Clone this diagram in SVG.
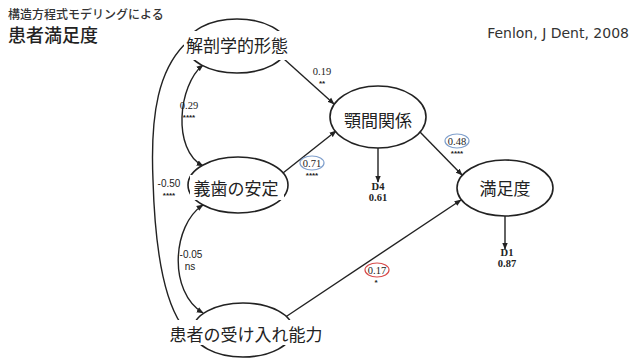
<svg xmlns="http://www.w3.org/2000/svg" width="631" height="362" viewBox="0 0 631 362">
<style>
.node ellipse{fill:#fff;stroke:#222;stroke-width:1.6}
.lbl{font-family:"Noto Sans CJK JP",sans-serif;font-size:17px;fill:#222;text-anchor:middle}
.bg{fill:#fff}
.conn path,.conn line{fill:none;stroke:#222;stroke-width:1.4}
.num{font-family:"Liberation Serif",serif;font-size:10.5px;fill:#222;text-anchor:middle}
.sans{font-family:"Liberation Sans",sans-serif;font-size:10px;fill:#222;text-anchor:middle}
.star{font-family:"Liberation Sans",sans-serif;font-size:8px;font-weight:bold;fill:#222;text-anchor:middle}
.b{font-weight:bold}
</style>
<defs>
<marker id="ah" viewBox="0 0 10 10" refX="9" refY="5" markerWidth="7" markerHeight="7" orient="auto-start-reverse" markerUnits="userSpaceOnUse">
<path d="M0,1 L10,5 L0,9 z" fill="#222"/>
</marker>
</defs>
<rect width="631" height="362" fill="#fff"/>
<text x="8" y="19" style="font-family:'Noto Sans CJK JP',sans-serif;font-size:12px;font-weight:500;fill:#333">構造方程式モデリングによる</text>
<text x="8" y="42" style="font-family:'Noto Sans CJK JP',sans-serif;font-size:18px;font-weight:500;fill:#222">患者満足度</text>
<text x="629" y="38" text-anchor="end" style="font-family:'DejaVu Sans',sans-serif;font-size:14px;fill:#333">Fenlon, J Dent, 2008</text>

<g class="conn">
<line x1="284" y1="59" x2="334" y2="104" marker-end="url(#ah)"/>
<line x1="283" y1="173" x2="336" y2="131" marker-end="url(#ah)"/>
<line x1="420" y1="132" x2="462" y2="175" marker-end="url(#ah)"/>
<line x1="284" y1="318" x2="461" y2="200" marker-end="url(#ah)"/>
<line x1="378" y1="148" x2="378" y2="182" marker-end="url(#ah)"/>
<line x1="505" y1="216" x2="505" y2="249" marker-end="url(#ah)"/>
<path d="M203,65 C178,85 172,150 203,166" marker-start="url(#ah)" marker-end="url(#ah)"/>
<path d="M203,205 C172,225 168,292 203,313" marker-start="url(#ah)" marker-end="url(#ah)"/>
<path d="M184,45 C160,70 150,110 153,180 C155,250 165,300 181,324"/>
<ellipse cx="312" cy="163" rx="12" ry="7" fill="none" stroke="#7f9fcc" stroke-width="1.2"/>
<ellipse cx="457" cy="141" rx="12" ry="7" fill="none" stroke="#7f9fcc" stroke-width="1.2"/>
<ellipse cx="377" cy="270" rx="12" ry="7" fill="none" stroke="#d84a4a" stroke-width="1.2"/>
<text class="num" x="322" y="75">0.19</text>
<text class="star" x="322" y="86">**</text>
<text class="num" x="189" y="109">0.29</text>
<text class="star" x="189" y="120">****</text>
<text class="num" x="312" y="167">0.71</text>
<text class="star" x="312" y="178">****</text>
<text class="num" x="457" y="145">0.48</text>
<text class="star" x="457" y="156">****</text>
<text class="sans" x="169" y="187">-0.50</text>
<text class="star" x="169" y="198">****</text>
<text class="sans" x="191" y="258">-0.05</text>
<text class="sans" x="190" y="270">ns</text>
<text class="num" x="377" y="274">0.17</text>
<text class="star" x="376" y="285">*</text>
<text class="num b" x="378" y="190">D4</text>
<text class="num b" x="378" y="201">0.61</text>
<text class="num b" x="507" y="256">D1</text>
<text class="num b" x="507" y="267">0.87</text>
</g>

<g id="n1" class="node">
<ellipse cx="237" cy="46" rx="50" ry="27"/>
<rect class="bg" x="184" y="31" width="107" height="29"/>
<text class="lbl" x="237" y="52">解剖学的形態</text>
</g>
<g id="n2" class="node">
<ellipse cx="238" cy="185" rx="50" ry="28"/>
<rect class="bg" x="190" y="175" width="94" height="25"/>
<text class="lbl" x="236" y="195">義歯の安定</text>
</g>
<g id="n3" class="node">
<ellipse cx="378" cy="117" rx="48" ry="31"/>
<text class="lbl" x="378" y="127">顎間関係</text>
</g>
<g id="n4" class="node">
<ellipse cx="505" cy="188" rx="48" ry="28"/>
<text class="lbl" x="505" y="195">満足度</text>
</g>
<g id="n5" class="node">
<ellipse cx="243" cy="330" rx="50" ry="27"/>
<rect class="bg" x="167" y="320" width="158" height="25"/>
<text class="lbl" x="246" y="341">患者の受け入れ能力</text>
</g>
</svg>
